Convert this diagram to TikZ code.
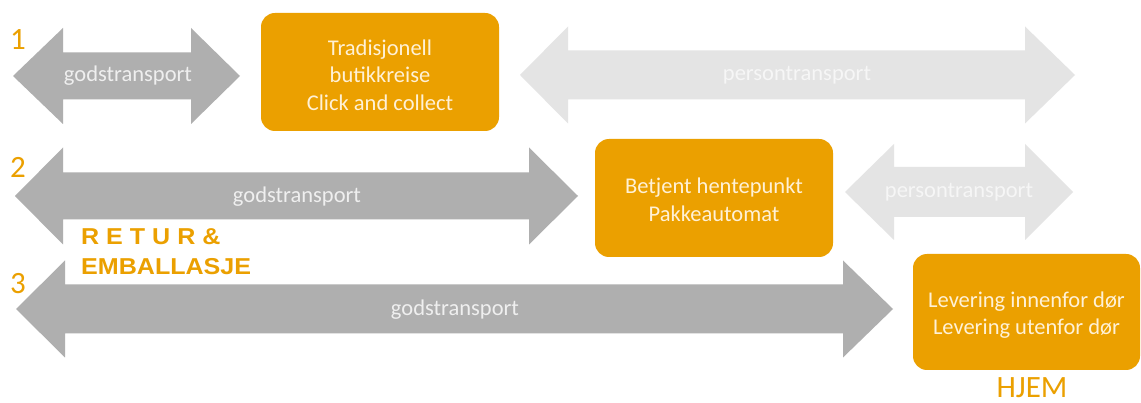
\documentclass[tikz,border=0pt]{standalone}
\usepackage{fontspec}
\setmainfont{Carlito}
\newfontfamily\returfont[FakeStretch=1.09]{Liberation Sans}
\definecolor{gods}{HTML}{AFAFAF}
\definecolor{pers}{HTML}{E4E4E4}
\definecolor{orng}{HTML}{EBA000}
\definecolor{boxtxt}{HTML}{FFF1D6}
\definecolor{godstxt}{HTML}{EFEFEF}
\definecolor{perstxt}{HTML}{F6F6F6}
% color, left tip, left back, right back, right tip, y centre, head half, shaft half
\newcommand\dblarrow[8]{%
  \fill[#1] (#2,#6) -- (#3,#6-#7) -- (#3,#6-#8) -- (#4,#6-#8) -- (#4,#6-#7)
   -- (#5,#6) -- (#4,#6+#7) -- (#4,#6+#8) -- (#3,#6+#8) -- (#3,#6+#7) -- cycle;}
\tikzset{
  obox/.style={fill=orng, rounded corners=14pt, align=center, text=boxtxt,
    font=\fontsize{22.5}{27.5}\selectfont, inner sep=0pt},
  gtext/.style={text=godstxt, font=\fontsize{22.5}{27}\selectfont},
  ptext/.style={text=perstxt, font=\fontsize{22.5}{27}\selectfont},
  numtext/.style={text=orng, font=\fontsize{31}{36}\selectfont, anchor=base west, inner sep=0pt},
  returtext/.style={text=orng, font=\returfont\bfseries\fontsize{23}{27}\selectfont, anchor=base west, inner sep=0pt}
}
\begin{document}
\begin{tikzpicture}[x=1pt,y=-1pt]
\useasboundingbox (0,0) rectangle (1141,403);
\fill[white] (0,0) rectangle (1141,403);
% arrows
\dblarrow{gods}{13}{63}{191}{240}{76}{48}{23.5}
\dblarrow{pers}{520}{568}{1025}{1075}{75}{48.5}{24.5}
\dblarrow{gods}{15}{63}{529}{578}{196}{48.5}{23.5}
\dblarrow{pers}{845}{894}{1025}{1073}{192}{48}{25}
\dblarrow{gods}{16}{65}{843}{893}{309}{48.5}{24.5}
% arrow labels
\node[gtext] (g1) at (128,76) {godstransport};
\node[ptext] (p1) at (797,75) {persontransport};
\node[gtext] (g2) at (297,197) {godstransport};
\node[ptext] (p2) at (959,192) {persontransport};
\node[gtext] (g3) at (455,310) {godstransport};
% boxes
\node[obox, minimum width=238pt, minimum height=118pt] (b1) at (380,72) {};
\node[obox, text=boxtxt] (b1t) at (380,75) {Tradisjonell\\butikkreise\\Click and collect};
\node[obox, minimum width=238pt, minimum height=118pt] (b2) at (714,198) {};
\node[obox] (b2t) at (714,200) {Betjent hentepunkt\\Pakkeautomat};
\node[obox, minimum width=227pt, minimum height=116pt] (b3) at (1026.5,312) {};
\node[obox] (b3t) at (1026.5,315) {Levering innenfor dør\\Levering utenfor dør};
% numbers
\node[numtext] (n1) at (10,50) {1};
\node[numtext] (n2) at (10,178) {2};
\node[numtext] (n3) at (10,294) {3};
% retur
\node[returtext] (r1) at (81,245) {R E T U R \&};
\node[returtext] (r2) at (81,275) {EMBALLASJE};
% hjem
\node[text=orng, font=\fontsize{31}{36}\selectfont, anchor=base, inner sep=0pt] (hj) at (1032,397) {HJEM};
\end{tikzpicture}
\end{document}
